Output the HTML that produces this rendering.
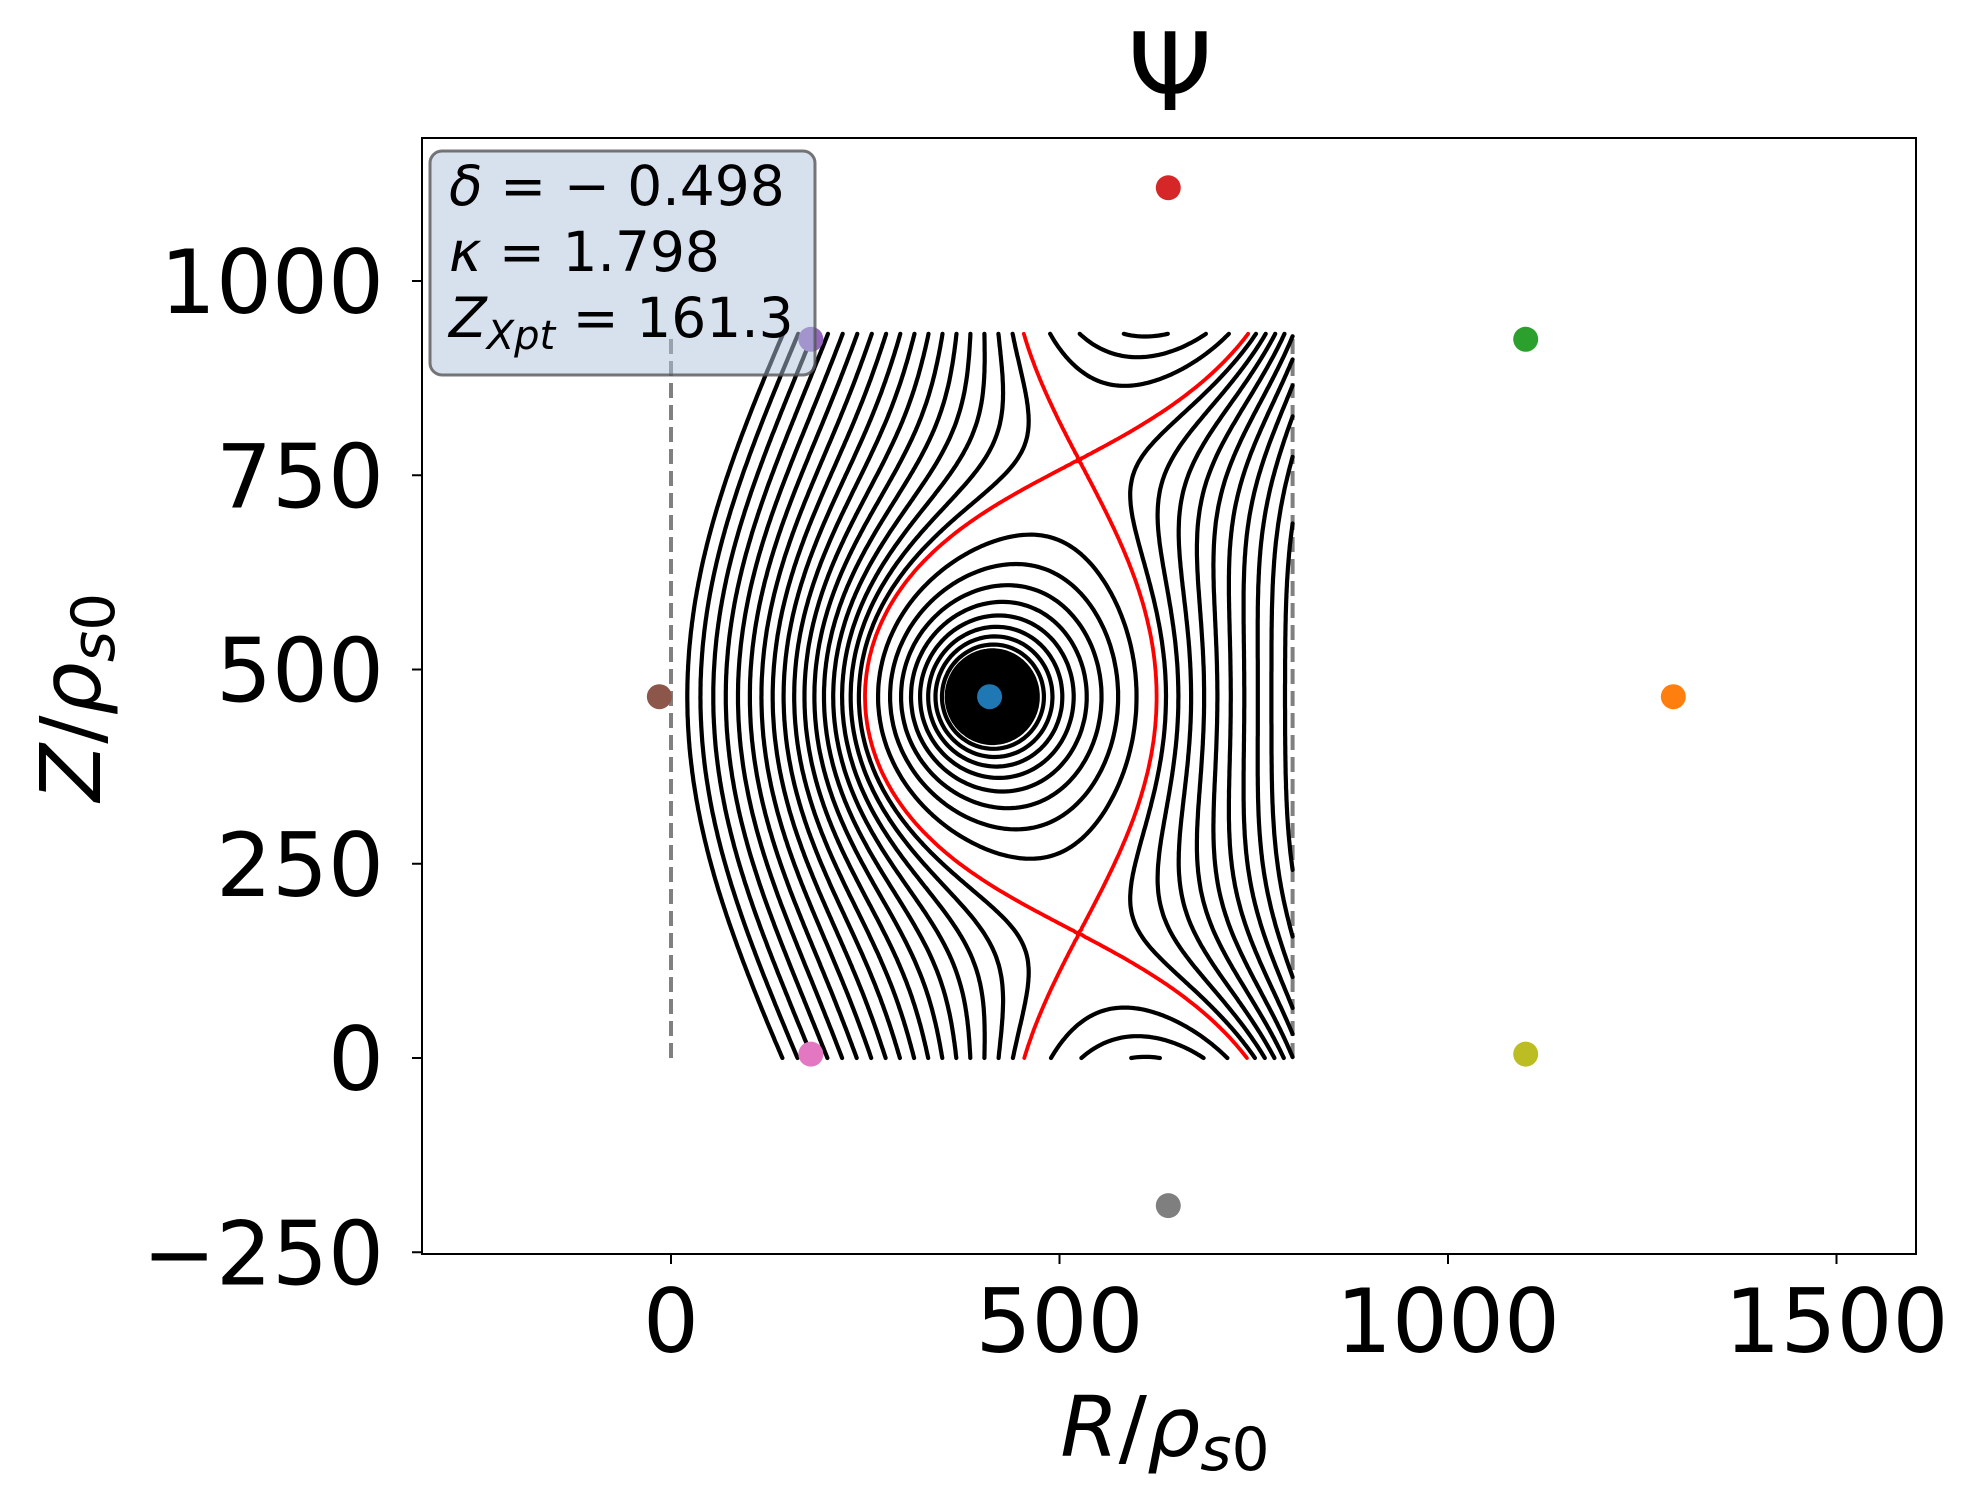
<!DOCTYPE html>
<html><head><meta charset="utf-8">
<style>
html,body{margin:0;padding:0;background:#fff;}
svg{display:block;}
text{font-family:"DejaVu Sans","Liberation Sans",sans-serif;fill:#000;}
</style></head>
<body>
<svg id="chart" width="1975" height="1501" viewBox="0 0 1975 1501" xmlns="http://www.w3.org/2000/svg">
<defs><clipPath id="clip"><rect x="422" y="138" width="1494" height="1116"/></clipPath></defs>
<rect x="0" y="0" width="1975" height="1501" fill="#fff"/>
<g id="contours" clip-path="url(#clip)"></g>
<g id="markers"></g>
<g>
<rect x="430" y="151" width="385" height="224" rx="12" fill="#b0c4de" fill-opacity="0.5" stroke="#555" stroke-opacity="0.8" stroke-width="3"/>
<text x="449" y="205" font-size="55"><tspan font-style="italic">δ</tspan> = − 0.498</text>
<text x="449" y="271" font-size="55"><tspan font-style="italic">κ</tspan> = 1.798</text>
<text x="449" y="337" font-size="55"><tspan font-style="italic">Z</tspan><tspan font-style="italic" font-size="40" dy="12">Xpt</tspan><tspan dy="-12"> = 161.3</tspan></text>
</g>
<rect x="422" y="138" width="1494" height="1116" fill="none" stroke="#000" stroke-width="2"/>
<g id="axes"></g>
<text x="1170" y="110" font-size="108" text-anchor="middle">Ψ</text>
<text x="1165" y="1456" font-size="84" text-anchor="middle"><tspan font-style="italic">R</tspan>/<tspan font-style="italic">ρ</tspan><tspan font-style="italic" font-size="60" dy="14">s</tspan><tspan font-size="60">0</tspan></text>
<text x="0" y="0" font-size="84" text-anchor="middle" transform="translate(100,697) rotate(-90)"><tspan font-style="italic">Z</tspan>/<tspan font-style="italic">ρ</tspan><tspan font-style="italic" font-size="60" dy="14">s</tspan><tspan font-size="60">0</tspan></text>
</svg>
<script>
// data
const coilR = [410, 1290, -15, 640, 640, 1100, 1100, 180, 180];
const coilZ = [465, 465, 465, 1120, -190, 925, 5, 925, 5];
const coilColors = ['#1f77b4','#ff7f0e','#8c564b','#d62728','#7f7f7f','#2ca02c','#bcbd22','#9467bd','#e377c2'];
const coilNames = ['plasma','outer-mid','inner-mid','top','bottom','outer-top','outer-bottom','inner-top','inner-bottom'];
const coilCurrent = [1, 0, 0, 1.85, 1.85, 0, 0, 0, 0];
const backgroundField = [0.000713];
const xTicks = [0, 500, 1000, 1500];
const yTicks = [-250, 0, 250, 500, 750, 1000];
const levelStepOuter = 0.08;
const levelStepInner = 0.14;
const levelStepCore = 0.035;
const coreRadius = [62];
const gridR = [0, 800];
const gridZ = [0, 930];
const dashedR = [0, 800];

const NS = 'http://www.w3.org/2000/svg';
const K = 0.777;
function xs(v){ return 671 + v*K; }
function ys(v){ return 1058 - v*K; }
function mk(tag, attrs, parent){ const e=document.createElementNS(NS,tag); for(const k in attrs) e.setAttribute(k,attrs[k]); parent.appendChild(e); return e; }

function psi(R,Z){
  let s=backgroundField[0]*R;
  for(let i=0;i<coilR.length;i++){
    if(!coilCurrent[i]) continue;
    const d=Math.hypot(R-coilR[i],Z-coilZ[i])+1e-9;
    s+=coilCurrent[i]*Math.log(d);
  }
  return s;
}

const step=4;
const nR=Math.round((gridR[1]-gridR[0])/step)+1, nZ=Math.round((gridZ[1]-gridZ[0])/step)+1;
const G=new Float64Array(nR*nZ);
for(let j=0;j<nZ;j++) for(let i=0;i<nR;i++){ G[j*nR+i]=psi(gridR[0]+i*step,gridZ[0]+j*step); }

function contour(level){
  let d='';
  for(let j=0;j<nZ-1;j++) for(let i=0;i<nR-1;i++){
    const a=G[j*nR+i], b=G[j*nR+i+1], c=G[(j+1)*nR+i+1], e=G[(j+1)*nR+i];
    const pts=[];
    const R0=gridR[0]+i*step, Z0=gridZ[0]+j*step;
    if((a<level)!==(b<level)){ const t=(level-a)/(b-a); pts.push([R0+t*step,Z0]); }
    if((b<level)!==(c<level)){ const t=(level-b)/(c-b); pts.push([R0+step,Z0+t*step]); }
    if((e<level)!==(c<level)){ const t=(level-e)/(c-e); pts.push([R0+t*step,Z0+step]); }
    if((a<level)!==(e<level)){ const t=(level-a)/(e-a); pts.push([R0,Z0+t*step]); }
    for(let k=0;k+1<pts.length;k+=2){
      d+='M'+xs(pts[k][0]).toFixed(1)+' '+ys(pts[k][1]).toFixed(1)+'L'+xs(pts[k+1][0]).toFixed(1)+' '+ys(pts[k+1][1]).toFixed(1);
    }
  }
  return d;
}

function findX(R,Z){
  const h=0.5;
  for(let it=0;it<50;it++){
    const gR=(psi(R+h,Z)-psi(R-h,Z))/(2*h), gZ=(psi(R,Z+h)-psi(R,Z-h))/(2*h);
    const hRR=(psi(R+h,Z)-2*psi(R,Z)+psi(R-h,Z))/(h*h);
    const hZZ=(psi(R,Z+h)-2*psi(R,Z)+psi(R,Z-h))/(h*h);
    const hRZ=(psi(R+h,Z+h)-psi(R+h,Z-h)-psi(R-h,Z+h)+psi(R-h,Z-h))/(4*h*h);
    const det=hRR*hZZ-hRZ*hRZ; if(!det) break;
    R-= ( hZZ*gR-hRZ*gZ)/det; Z-= (-hRZ*gR+hRR*gZ)/det;
  }
  return [R,Z];
}
const xu=findX(525,770), xl=findX(525,165);
const sepU=psi(xu[0],xu[1]), sepL=psi(xl[0],xl[1]);
const sepLevel=Math.min(sepU,sepL);

const cg=document.getElementById('contours');
dashedR.forEach((r,idx)=>{
  const l=mk('line',{x1:xs(r),x2:xs(r),y1:ys(gridZ[0]),y2:ys(gridZ[1]),stroke:'#808080','stroke-width':4,'stroke-dasharray':'15 7'},cg);
  
  
});
const psiMax=psi(21,465);
const psiCore=psi(coilR[0]+coreRadius[0],coilZ[0]);
const psiMin=psi(coilR[0]+8,coilZ[0]);
let dAll='';
for(let lv=psiMax; lv>sepLevel+0.02; lv-=levelStepOuter){ dAll+=contour(lv); }
for(let lv=sepLevel-levelStepInner; lv>psiCore; lv-=levelStepInner){ dAll+=contour(lv); }
for(let lv=psiCore; lv>psiMin; lv-=levelStepCore){ dAll+=contour(lv); }
const pBlack=mk('path',{d:dAll,fill:'none',stroke:'#000','stroke-width':4.2,'stroke-linecap':'round'},cg);


let dRed=contour(sepU);
if(Math.abs(sepU-sepL)>1e-4) dRed+=contour(sepL);
const pRed=mk('path',{d:dRed,fill:'none',stroke:'#ff0000','stroke-width':3.8,'stroke-linecap':'round'},cg);



const mg=document.getElementById('markers');
for(let i=0;i<coilR.length;i++){
  const c=mk('circle',{cx:xs(coilR[i]),cy:ys(coilZ[i]),r:12.5,fill:coilColors[i]},mg);
  
  
}

const ax=document.getElementById('axes');
xTicks.forEach(v=>{
  const t=mk('line',{x1:xs(v),x2:xs(v),y1:1254,y2:1264,stroke:'#000','stroke-width':2},ax);
  
  
  const l=mk('text',{x:xs(v),y:1352,'font-size':88,'text-anchor':'middle'},ax);
  l.textContent=String(v);
  
  
});
yTicks.forEach(v=>{
  const t=mk('line',{x1:412,x2:422,y1:ys(v),y2:ys(v),stroke:'#000','stroke-width':2},ax);
  
  
  const l=mk('text',{x:384,y:ys(v)+32,'font-size':88,'text-anchor':'end'},ax);
  l.textContent=(v<0?'\u2212':'')+Math.abs(v);
  
  
});
</script>
</body></html>
